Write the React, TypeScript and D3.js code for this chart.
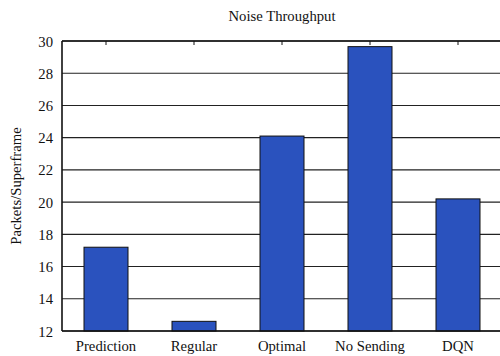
import React from "react";
import * as d3 from "d3";

const categories = ["Prediction", "Regular", "Optimal", "No Sending", "DQN"];
const throughput = [17.2, 12.6, 24.1, 29.65, 20.2];
const yTicks = [12, 14, 16, 18, 20, 22, 24, 26, 28, 30];

const W = 500;
const H = 356;
const margin = { left: 62, top: 41, right: 502, bottom: 331 };
const textStyle: React.CSSProperties = {
  fontFamily: '"Liberation Serif", "Times New Roman", Times, serif',
  fontSize: "14.7px",
};

export default function App() {
  const x = d3
    .scaleBand<string>()
    .domain(categories)
    .range([margin.left, margin.right])
    .paddingInner(0)
    .paddingOuter(0);
  const y = d3.scaleLinear().domain([12, 30]).range([margin.bottom, margin.top]);
  const barW = x.bandwidth() * 0.5;

  return (
    <svg
      width={W}
      height={H}
      style={{ position: "absolute", left: 0, top: 0, background: "#fff" }}
    >
      <text x={282} y={21} style={textStyle} textAnchor="middle" fill="#111">
        Noise Throughput
      </text>

      {/* horizontal grid */}
      {yTicks.map((t) => (
        <line
          key={"g" + t}
          x1={margin.left}
          x2={W}
          y1={y(t)}
          y2={y(t)}
          stroke="#222"
          strokeWidth={1.1}
        />
      ))}

      {/* bars */}
      {categories.map((c, i) => {
        const cx = (x(c) as number) + x.bandwidth() / 2;
        return (
          <rect
            key={c}
            x={cx - barW / 2}
            y={y(throughput[i])}
            width={barW}
            height={y(12) - y(throughput[i])}
            fill="#2a52be"
            stroke="#111"
            strokeWidth={1}
          />
        );
      })}

      {/* frame */}
      <line x1={margin.left} x2={W} y1={margin.top} y2={margin.top} stroke="#111" strokeWidth={1.6} />
      <line x1={margin.left} x2={W} y1={margin.bottom} y2={margin.bottom} stroke="#111" strokeWidth={1.6} />
      <line x1={margin.left} x2={margin.left} y1={margin.top} y2={margin.bottom} stroke="#111" strokeWidth={1.6} />

      {/* top tick marks at category centers */}
      {categories.map((c) => {
        const cx = (x(c) as number) + x.bandwidth() / 2;
        return (
          <line key={"t" + c} x1={cx} x2={cx} y1={margin.top} y2={margin.top + 4} stroke="#111" strokeWidth={1} />
        );
      })}

      {/* y tick labels */}
      {yTicks.map((t) => (
        <text key={"l" + t} x={53} y={y(t) + 5.5} style={textStyle} textAnchor="end" fill="#111">
          {t}
        </text>
      ))}

      {/* x labels */}
      {categories.map((c) => {
        const cx = (x(c) as number) + x.bandwidth() / 2;
        return (
          <text key={"x" + c} x={cx} y={351} style={textStyle} textAnchor="middle" fill="#111">
            {c}
          </text>
        );
      })}

      <text
        transform={`translate(21, ${(margin.top + margin.bottom) / 2}) rotate(-90)`}
        style={textStyle}
        textAnchor="middle"
        fill="#111"
      >
        Packets/Superframe
      </text>
    </svg>
  );
}
